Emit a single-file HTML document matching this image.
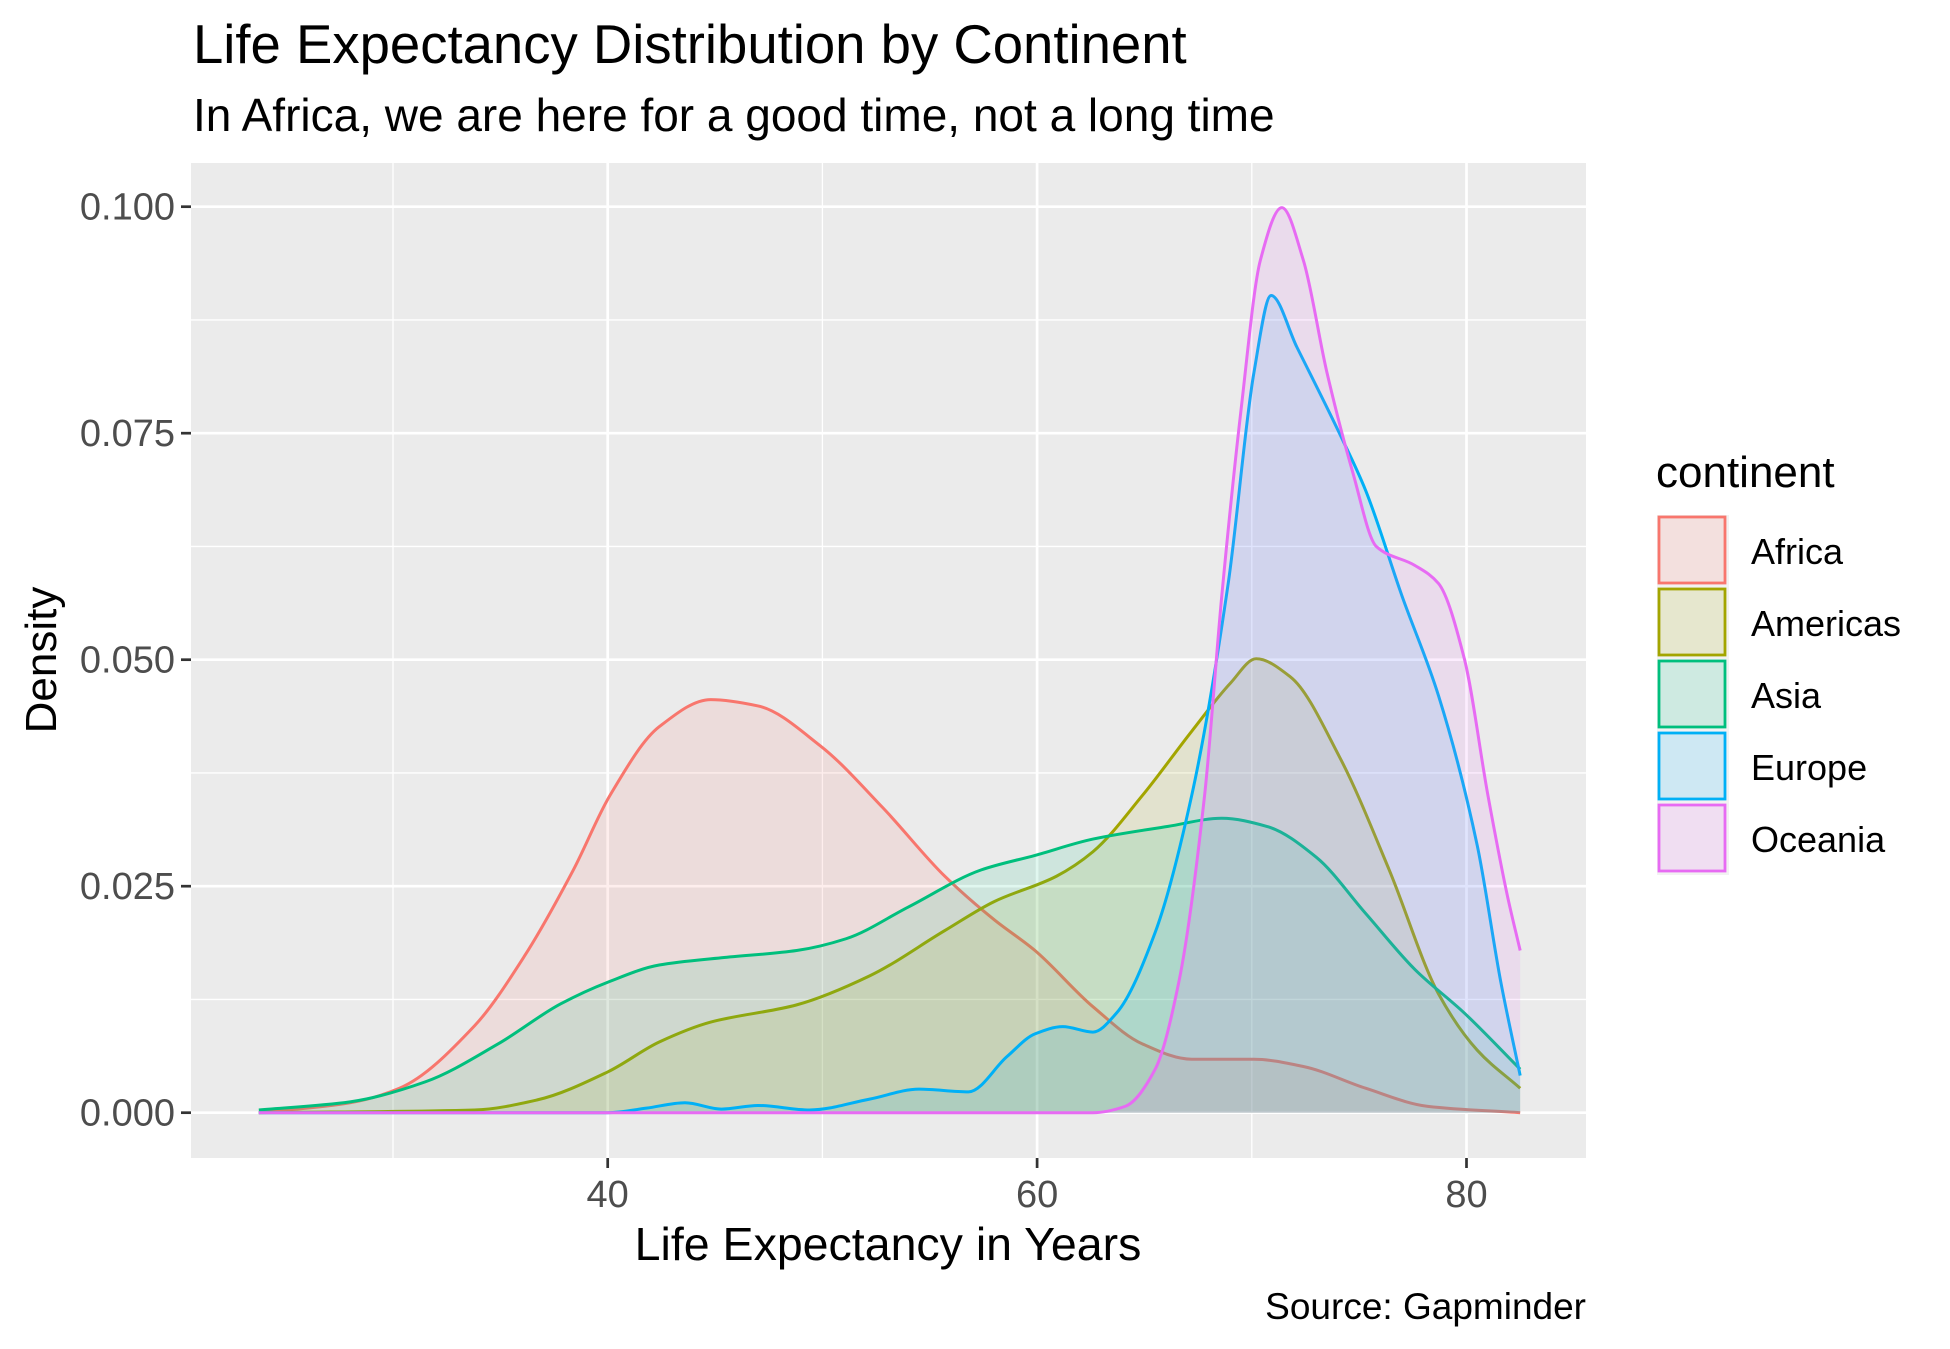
<!DOCTYPE html>
<html><head><meta charset="utf-8"><style>
html,body{margin:0;padding:0;background:#fff;}
svg{display:block;font-family:"Liberation Sans",Arial,sans-serif;}
</style></head><body>
<svg id="chart" width="1950" height="1349" viewBox="0 0 1950 1349">
<text x="193" y="63" font-size="54.5" fill="#000">Life Expectancy Distribution by Continent</text>
<text x="193" y="131" font-size="46" fill="#000">In Africa, we are here for a good time, not a long time</text>
<rect x="191" y="163" width="1395" height="995" fill="#ebebeb"/>
<g id="grid"></g>
<g id="series"></g>
<g id="axes"></g>
<text x="888" y="1260" font-size="46.5" text-anchor="middle" fill="#000">Life Expectancy in Years</text>
<text transform="translate(56,660) rotate(-90)" font-size="44" text-anchor="middle" fill="#000">Density</text>
<text x="1586" y="1319" font-size="37" text-anchor="end" fill="#000">Source: Gapminder</text>
<text x="1656" y="487" font-size="44" fill="#000">continent</text>
<g id="legend"></g>
</svg>
<script>
const categories = ["Africa","Americas","Asia","Europe","Oceania"];
const colors = ["#F8766D","#A3A500","#00BF7D","#00B0F6","#E76BF3"];
const xTicks = [40,60,80];
const xMinor = [30,50,70];
const yTicks = [0,0.025,0.05,0.075,0.1];
const yTickLabels = ["0.000","0.025","0.050","0.075","0.100"];
const africaX = [23.75,28.0,30.3,33.8,36.1,38.4,40.1,42.4,44.8,47.0,49.9,52.8,55.7,58.0,59.9,62.6,64.9,67.2,70.1,72.4,75.3,78.2,82.5];
const africaY = [0,0.0011,0.0027,0.0096,0.0172,0.0268,0.0350,0.0426,0.0456,0.0449,0.0405,0.0337,0.0261,0.0213,0.0179,0.0117,0.0076,0.0059,0.0059,0.0051,0.0027,0.0007,0];
const americasX = [23.75,33.8,36.7,40,42.4,44.8,48.8,52.2,55.7,58.0,60.9,62.6,64.9,67.2,69.0,70.2,71.8,74.1,76.4,78.7,80.5,82.5];
const americasY = [0,0.0003,0.0014,0.0045,0.0078,0.0100,0.0119,0.0151,0.0201,0.0233,0.0261,0.0288,0.0350,0.0421,0.0474,0.0501,0.0481,0.0392,0.0268,0.0131,0.0069,0.0027];
const asiaX = [23.75,28.0,31.5,34.9,37.8,40,42.4,45.3,48.8,51.1,54.0,57.4,59.9,62.6,66.1,68.6,70.7,73.0,75.3,77.6,79.9,82.5];
const asiaY = [0.0003,0.0012,0.0034,0.0076,0.0120,0.0144,0.0163,0.0171,0.0179,0.0192,0.0227,0.0268,0.0284,0.0302,0.0316,0.0325,0.0316,0.0282,0.0220,0.0158,0.0110,0.0048];
const europeX = [23.75,40,41.8,43.6,45.3,47.0,49.4,52.2,54.5,56.8,58.6,59.9,61.2,62.6,63.7,65.5,67.2,68.9,70.1,70.9,72.1,74.1,75.3,77.0,78.7,80.5,81.6,82.5];
const europeY = [0,0,0.0005,0.0011,0.0004,0.0008,0.0003,0.0015,0.0026,0.0023,0.0062,0.0087,0.0095,0.0089,0.0110,0.0199,0.0350,0.0584,0.0817,0.0902,0.0845,0.0749,0.0687,0.0570,0.0460,0.0295,0.0144,0.0041];
const oceaniaX = [23.75,62.6,64.1,65.5,66.6,67.8,68.6,69.5,70.4,71.4,72.4,73.5,74.7,75.8,77.6,78.7,79.9,81.0,81.9,82.5];
const oceaniaY = [0,0,0.0007,0.0048,0.0144,0.0350,0.0570,0.0776,0.0941,0.0999,0.0941,0.0817,0.0707,0.0625,0.0604,0.0584,0.0501,0.0350,0.0240,0.0179];
const seriesX = [africaX,americasX,asiaX,europeX,oceaniaX];
const seriesY = [africaY,americasY,asiaY,europeY,oceaniaY];

const NS="http://www.w3.org/2000/svg";
const xs = v => 607.7 + (v-40)*21.47;
const ys = v => 1112.7 - v*9060;
function mk(tag, attrs, parent){const e=document.createElementNS(NS,tag);for(const k in attrs)e.setAttribute(k,attrs[k]);parent.appendChild(e);return e;}
const grid=document.getElementById('grid'), axes=document.getElementById('axes'), ser=document.getElementById('series'), leg=document.getElementById('legend');
xMinor.forEach(v=>{const l=mk('line',{x1:xs(v),x2:xs(v),y1:163,y2:1158,stroke:'#fff','stroke-width':1.3},grid);

});
for(let i=0;i<yTicks.length-1;i++){const v=(yTicks[i]+yTicks[i+1])/2;const l=mk('line',{x1:191,x2:1586,y1:ys(v),y2:ys(v),stroke:'#fff','stroke-width':1.3},grid);

}
xTicks.forEach(v=>{const l=mk('line',{x1:xs(v),x2:xs(v),y1:163,y2:1158,stroke:'#fff','stroke-width':2.7},grid);


const t=mk('line',{x1:xs(v),x2:xs(v),y1:1158,y2:1168,stroke:'#333','stroke-width':2.7},axes);


const tx=mk('text',{x:xs(v),y:1207,'font-size':38,'text-anchor':'middle',fill:'#4d4d4d'},axes);tx.textContent=v;

});
yTicks.forEach((v,i)=>{const l=mk('line',{x1:191,x2:1586,y1:ys(v),y2:ys(v),stroke:'#fff','stroke-width':2.7},grid);


const t=mk('line',{x1:181,x2:191,y1:ys(v),y2:ys(v),stroke:'#333','stroke-width':2.7},axes);


const tx=mk('text',{x:175,y:ys(v)+13,'font-size':38,'text-anchor':'end',fill:'#4d4d4d'},axes);tx.textContent=yTickLabels[i];

});
// monotone cubic (Fritsch-Carlson) in x
function smooth(pts){const n=pts.length;const dx=[],sl=[];
for(let i=0;i<n-1;i++){dx.push(pts[i+1][0]-pts[i][0]);sl.push((pts[i+1][1]-pts[i][1])/dx[i]);}
const m=new Array(n);m[0]=sl[0];m[n-1]=sl[n-2];
for(let i=1;i<n-1;i++){if(sl[i-1]*sl[i]<=0)m[i]=0;else{const w1=2*dx[i]+dx[i-1],w2=dx[i]+2*dx[i-1];m[i]=(w1+w2)/(w1/sl[i-1]+w2/sl[i]);}}
let d='M'+pts[0][0]+','+pts[0][1];
for(let i=0;i<n-1;i++){const h=dx[i]/3;d+=' C'+(pts[i][0]+h)+','+(pts[i][1]+m[i]*h)+' '+(pts[i+1][0]-h)+','+(pts[i+1][1]-m[i+1]*h)+' '+pts[i+1][0]+','+pts[i+1][1];}
return d;}
categories.forEach((c,k)=>{const pts=seriesX[k].map((x,i)=>[xs(x),ys(seriesY[k][i])]);const line=smooth(pts);
const a=mk('path',{d:line+' L'+pts[pts.length-1][0]+','+ys(0)+' L'+pts[0][0]+','+ys(0)+' Z',fill:colors[k],'fill-opacity':0.12,stroke:'none'},ser);


const p=mk('path',{d:line,fill:'none',stroke:colors[k],'stroke-width':3},ser);


const y0=515+k*72;
const g=mk('g',{},leg);


mk('rect',{x:1657,y:y0,width:72,height:72,fill:'#f2f2f2',stroke:'none'},g);
mk('rect',{x:1659,y:y0+2,width:66,height:66,fill:colors[k],'fill-opacity':0.15,stroke:colors[k],'stroke-width':2.8},g);
const t=mk('text',{x:1751,y:y0+49,'font-size':36,fill:'#000'},g);t.textContent=c;});
</script>
</body></html>
